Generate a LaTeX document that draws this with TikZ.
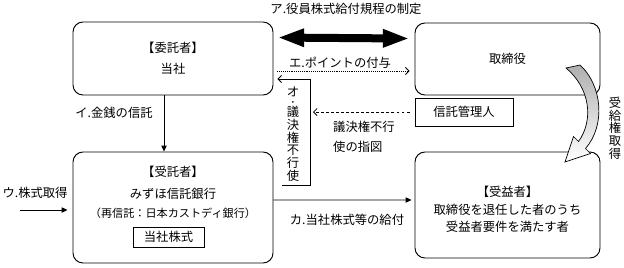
\documentclass[tikz,border=0pt]{standalone}
\usepackage{fontspec}
\setmainfont{Noto Sans CJK JP}
\usepackage{xcolor}
\usepackage{tikz}
\usetikzlibrary{arrows.meta, positioning, calc}
\definecolor{bandgray}{RGB}{175,175,175}

\tikzset{
    partybox/.style={
        draw,
        line width=0.8pt,
        rounded corners=0.3cm,
        align=center,
        font=\fontsize{10.5}{17.5}\selectfont
    },
    plainbox/.style={
        draw,
        line width=0.8pt,
        align=center,
        inner sep=0pt,
        font=\fontsize{10.5}{12}\selectfont
    },
    lbl/.style={
        inner sep=0pt,
        font=\fontsize{10.5}{17}\selectfont
    },
    vtext/.style={
        align=center,
        inner sep=0pt,
        font=\fontsize{10.5}{10.8}\selectfont
    },
    linkarrow/.style={
        line width=0.7pt,
        -{Triangle[length=5pt,width=4.5pt]}
    },
    openarrow/.style={
        line width=0.7pt,
        -{Straight Barb[length=3pt,width=6pt]}
    }
}

\begin{document}
\begin{tikzpicture}[x=0.03cm, y=-0.03cm]

        \useasboundingbox (0,0) rectangle (624,267);

        % Parties
        \node[partybox, minimum width=6cm, minimum height=2.19cm]
        (itaku) at (173,58.5) {【委託者】\\当社};

        \node[partybox, minimum width=5.55cm, minimum height=2.16cm]
        (torishimari) at (507.5,59) {取締役};

        \node[partybox, minimum width=6cm, minimum height=3.33cm]
        (jutaku) at (173,207.5) {};

        \node[partybox, minimum width=5.55cm, minimum height=3.18cm]
        (jueki) at (507.5,205) {};

        \node[plainbox, minimum width=2.94cm, minimum height=0.84cm]
        (kanri) at (464,112) {信託管理人};

        % Texts inside the trustee and beneficiary boxes
        \node[lbl] (jutakutitle) at (173,172) {【受託者】};
        \node[lbl] (jutakuname) at (173,194) {みずほ信託銀行};
        \node[lbl, font=\fontsize{9.5}{11}\selectfont]
        (saishintaku) at (173,213) {（再信託：日本カストディ銀行）};
        \node[plainbox, minimum width=2.13cm, minimum height=0.6cm]
        (kabu) at (168.5,237) {当社株式};

        \node[lbl, align=center, font=\fontsize{10.5}{15}\selectfont]
        (juekitext) at (507.5,209.5)
        {【受益者】\\取締役を退任した者のうち\\受益者要件を満たす者};

        % Labels
        \node[lbl] (seitei) at (346,9) {ア.役員株式給付規程の制定};
        \node[lbl] (point) at (340,63) {エ.ポイントの付与};
        \node[lbl] (kinsen) at (114,113) {イ.金銭の信託};
        \node[lbl] (shutoku) at (35,193) {ウ.株式取得};
        \node[lbl] (kyufu) at (347,220) {カ.当社株式等の給付};
        \node[lbl, align=left, anchor=west] (sashizu) at (333,137)
        {議決権不行\\使の指図};
        \node[vtext] (fukoushi) at (293,134)
        {オ\\[-3.2pt]{\fontsize{7}{7}\selectfont ・}\\[-0.8pt]議\\決\\権\\不\\行\\使};
        \node[vtext] (jukyuken) at (615,128) {受\\給\\権\\取\\得};

        % Connectors
        \draw[
            line width=0.24cm,
            {Triangle[length=0.8cm,width=0.5cm]}-{Triangle[length=0.8cm,width=0.5cm]}
        ]
        ([xshift=0.12cm,yshift=-0.48cm]itaku.north east)
        -- ([xshift=-0.15cm,yshift=-0.48cm]torishimari.north west);

        \draw[openarrow, dash pattern=on 0.8pt off 0.8pt]
        ([xshift=0.12cm,yshift=-0.375cm]itaku.east)
        -- ([xshift=-0.15cm,yshift=-0.36cm]torishimari.west);

        \coordinate (otail) at (282,185);
        \coordinate (ocorner) at (310,185);
        \draw[openarrow]
        (otail) -- (ocorner) |- ([xshift=0.12cm,yshift=-0.615cm]itaku.east);

        \draw[openarrow, dash pattern=on 2.5pt off 1.8pt]
        ([xshift=-0.15cm]kanri.west) -- ($(ocorner |- kanri.west)+(3,0)$);

        \draw[linkarrow]
        ([xshift=-0.27cm]itaku.south) -- ([xshift=-0.27cm]jutaku.north);

        \coordinate (ustart) at (20,210);
        \draw[linkarrow]
        (ustart) -- ([xshift=-0.15cm,yshift=-0.075cm]jutaku.west);

        \draw[linkarrow]
        ([yshift=0.225cm]jutaku.east) -- ([xshift=-0.09cm,yshift=0.15cm]jueki.west);

        % Curved band arrow
        \draw[
            line width=0.6pt,
            top color=bandgray,
            middle color=bandgray!70,
            bottom color=white
        ]
        (566,68) -- (580,65)
        .. controls (602,85) and (606,125) .. (585.5,148.5)
        -- (590.5,153.5) -- (565,162) -- (573.5,136.5) -- (578.5,141.5)
        .. controls (594,120) and (590,88) .. (566,68) -- cycle;

    \end{tikzpicture}
\end{document}
